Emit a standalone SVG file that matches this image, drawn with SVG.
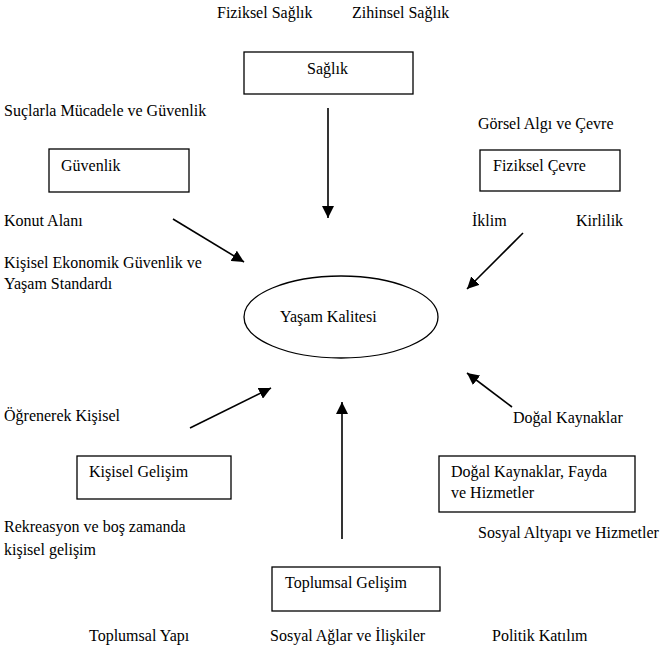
<svg xmlns="http://www.w3.org/2000/svg" width="662" height="649" viewBox="0 0 662 649" font-family="Liberation Serif, Times New Roman, Tinos, DejaVu Serif, serif" font-size="16">
<style>
text{font-family:'Liberation Serif','Times New Roman',Tinos,'DejaVu Serif',serif;font-size:16px;fill:#000}
.box{fill:#fff;stroke:#000;stroke-width:1.3}
.con{stroke:#000;stroke-width:1.6;fill:none}
</style>
<defs>
<marker id="ah" markerUnits="userSpaceOnUse" markerWidth="13" markerHeight="12" refX="12" refY="6" orient="auto">
<path d="M0,0 L12,6 L0,12 z" fill="#000"/>
</marker>
</defs>
<rect width="662" height="649" fill="#fff"/>
<g id="labels">
<text x="217" y="18">Fiziksel Sağlık</text>
<text x="352" y="18">Zihinsel Sağlık</text>
<text x="4" y="116">Suçlarla Mücadele ve Güvenlik</text>
<text x="478" y="129">Görsel Algı ve Çevre</text>
<text x="4" y="226">Konut Alanı</text>
<text x="472" y="226">İklim</text>
<text x="576" y="226">Kirlilik</text>
<text x="4" y="268">Kişisel Ekonomik Güvenlik ve</text>
<text x="4" y="289">Yaşam Standardı</text>
<text x="4" y="421">Öğrenerek Kişisel</text>
<text x="513" y="423">Doğal Kaynaklar</text>
<text x="4" y="532">Rekreasyon ve boş zamanda</text>
<text x="4" y="555">kişisel gelişim</text>
<text x="478" y="538">Sosyal Altyapı ve Hizmetler</text>
<text x="89" y="641">Toplumsal Yapı</text>
<text x="270" y="641">Sosyal Ağlar ve İlişkiler</text>
<text x="492" y="641">Politik Katılım</text>
</g>
<g id="saglik"><rect class="box" x="244" y="52" width="169" height="42"/><text x="307" y="74">Sağlık</text></g>
<g id="guvenlik"><rect class="box" x="49" y="149" width="140" height="43"/><text x="61" y="171">Güvenlik</text></g>
<g id="fiziksel-cevre"><rect class="box" x="480" y="150" width="140" height="41"/><text x="493" y="171">Fiziksel Çevre</text></g>
<g id="yasam-kalitesi"><ellipse cx="341" cy="317" rx="97" ry="41" fill="#fff" stroke="#000" stroke-width="1.3"/><text x="280" y="322">Yaşam Kalitesi</text></g>
<g id="kisisel-gelisim"><rect class="box" x="77" y="456" width="154" height="43"/><text x="89" y="477">Kişisel Gelişim</text></g>
<g id="dogal-kaynaklar"><rect class="box" x="439" y="456" width="196" height="56"/><text x="451" y="477">Doğal Kaynaklar, Fayda</text><text x="451" y="498">ve Hizmetler</text></g>
<g id="toplumsal-gelisim"><rect class="box" x="272" y="567" width="168" height="44"/><text x="285" y="588">Toplumsal Gelişim</text></g>
<g id="connectors">
<line class="con" x1="328" y1="108" x2="328" y2="218" marker-end="url(#ah)"/>
<line class="con" x1="173" y1="219" x2="244" y2="262" marker-end="url(#ah)"/>
<line class="con" x1="523" y1="233" x2="467" y2="289" marker-end="url(#ah)"/>
<line class="con" x1="190" y1="428" x2="271" y2="388" marker-end="url(#ah)"/>
<line class="con" x1="342" y1="539" x2="342" y2="402" marker-end="url(#ah)"/>
<line class="con" x1="512" y1="407" x2="467" y2="373" marker-end="url(#ah)"/>
</g>
</svg>
